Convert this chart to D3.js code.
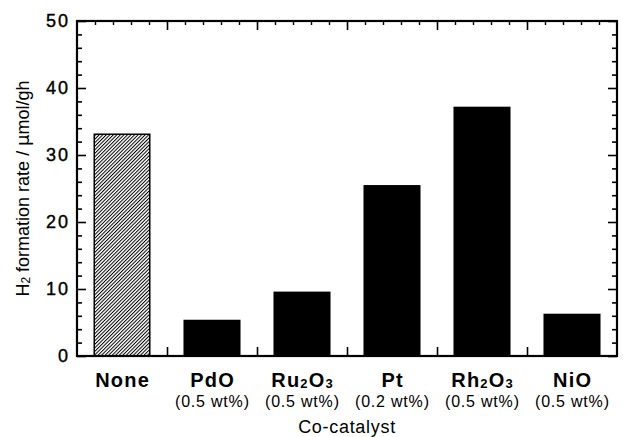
<!DOCTYPE html>
<html><head><meta charset="utf-8">
<script src="https://cdn.jsdelivr.net/npm/d3@7"></script>
<style>
body{margin:0;background:#fff;}
svg{display:block;font-family:"Liberation Sans",Arial,Helvetica,sans-serif;}
</style></head>
<body><svg id="c" width="623" height="437"></svg>
<script>
// Data
const categories = ["None", "PdO", "Ru2O3", "Pt", "Rh2O3", "NiO"];
const categoryParts = [
  [["None", false]],
  [["PdO", false]],
  [["Ru", false], ["2", true], ["O", false], ["3", true]],
  [["Pt", false]],
  [["Rh", false], ["2", true], ["O", false], ["3", true]],
  [["NiO", false]]
];
const loadings = ["", "(0.5 wt%)", "(0.5 wt%)", "(0.2 wt%)", "(0.5 wt%)", "(0.5 wt%)"];
const rates = [33.1, 5.3, 9.5, 25.4, 37.1, 6.2];
const hatched = [true, false, false, false, false, false];
const yMajorTicks = [0, 10, 20, 30, 40, 50];
const yMinorTicks = [2, 4, 6, 8, 12, 14, 16, 18, 22, 24, 26, 28, 32, 34, 36, 38, 42, 44, 46, 48];

const L = 77, R = 617, T = 21, B = 356;
const svg = d3.select("#c");

const pi = 0.383;
const x = d3.scaleBand().domain(categories).range([L, R]).paddingInner(pi).paddingOuter(pi / 2);
const y = d3.scaleLinear().domain([0, 50]).range([B, T]);
const xSub = d3.scaleLinear().domain([0, categories.length]).range([L, R]);

// hatch pattern
const defs = svg.append("defs");
const pat = defs.append("pattern").attr("id", "hatch").attr("patternUnits", "userSpaceOnUse")
  .attr("width", 2.5).attr("height", 10).attr("patternTransform", "rotate(45)");
pat.append("rect").attr("width", 2.5).attr("height", 10).attr("fill", "#fff");
pat.append("line").attr("x1", 0.5).attr("x2", 0.5).attr("y1", 0).attr("y2", 10)
  .attr("stroke", "#000").attr("stroke-width", 1.0);

// bars
svg.append("g").selectAll("rect").data(categories).join("rect")
  .attr("x", d => x(d))
  .attr("width", x.bandwidth())
  .attr("y", (d, i) => y(rates[i]))
  .attr("height", (d, i) => y(0) - y(rates[i]))
  .attr("fill", (d, i) => hatched[i] ? "url(#hatch)" : "#000")
  .attr("stroke", "#000").attr("stroke-width", 1.5);

// axes
function styleAxis(g, w) {
  g.select(".domain").remove();
  g.selectAll(".tick line").attr("stroke", "#000").attr("stroke-width", w);
}
// left
svg.append("g").attr("transform", `translate(${L},0)`)
  .call(d3.axisLeft(y).tickValues(yMajorTicks).tickSizeInner(-9).tickSizeOuter(0).tickPadding(7).tickFormat(d3.format("d")))
  .call(g => { styleAxis(g, 1.6); g.selectAll(".tick text").attr("font-size", 18).attr("letter-spacing", 2).attr("fill", "#000")
      .attr("stroke", "#000").attr("stroke-width", 0.4).attr("font-family", "Liberation Sans, Arial, sans-serif"); });
svg.append("g").attr("transform", `translate(${L},0)`)
  .call(d3.axisLeft(y).tickValues(yMinorTicks).tickSizeInner(-5).tickSizeOuter(0).tickFormat(""))
  .call(g => styleAxis(g, 1.6));
// right
svg.append("g").attr("transform", `translate(${R},0)`)
  .call(d3.axisRight(y).tickValues(yMajorTicks).tickSizeInner(-9).tickSizeOuter(0).tickFormat(""))
  .call(g => styleAxis(g, 1.6));
svg.append("g").attr("transform", `translate(${R},0)`)
  .call(d3.axisRight(y).tickValues(yMinorTicks).tickSizeInner(-5).tickSizeOuter(0).tickFormat(""))
  .call(g => styleAxis(g, 1.6));
// top
const topMajor = d3.range(1, categories.length);
const topMinor = d3.range(0, categories.length * 5 + 1).map(d => d / 5).filter(d => Math.abs(d - Math.round(d)) > 1e-6);
svg.append("g").attr("transform", `translate(0,${T})`)
  .call(d3.axisTop(xSub).tickValues(topMajor).tickSizeInner(-9).tickSizeOuter(0).tickFormat(""))
  .call(g => styleAxis(g, 1.6));
svg.append("g").attr("transform", `translate(0,${T})`)
  .call(d3.axisTop(xSub).tickValues(topMinor).tickSizeInner(-4).tickSizeOuter(0).tickFormat(""))
  .call(g => styleAxis(g, 1.4));
// bottom
svg.append("g").attr("transform", `translate(0,${B})`)
  .call(d3.axisBottom(xSub).tickValues(topMajor).tickSizeInner(-9).tickSizeOuter(0).tickFormat(""))
  .call(g => styleAxis(g, 1.6));

// frame
svg.append("rect").attr("x", L).attr("y", T).attr("width", R - L).attr("height", B - T)
  .attr("fill", "none").attr("stroke", "#000").attr("stroke-width", 2.2);

// category labels
const lab = svg.append("g").selectAll("text.cat").data(categories).join("text")
  .attr("class", "cat")
  .attr("x", d => x(d) + x.bandwidth() / 2 + 0.6)
  .attr("y", 387)
  .attr("text-anchor", "middle")
  .attr("font-size", 20).attr("font-weight", "bold").attr("letter-spacing", 1.2).attr("fill", "#000");
lab.each(function(d, i) {
  const t = d3.select(this);
  let shift = 0;
  categoryParts[i].forEach(([s, sub]) => {
    const ts = t.append("tspan").text(s);
    if (sub) { ts.attr("font-size", 13).attr("dy", 1 - shift); shift = 1; }
    else { ts.attr("dy", -shift); shift = 0; }
  });
});
svg.append("g").selectAll("text.load").data(categories).join("text")
  .attr("class", "load")
  .attr("x", d => x(d) + x.bandwidth() / 2 + 0.4)
  .attr("y", 407)
  .attr("text-anchor", "middle")
  .attr("font-size", 16).attr("letter-spacing", 0.8).attr("fill", "#000")
  .text((d, i) => loadings[i]);

// axis titles
svg.append("text").attr("x", (L + R) / 2).attr("y", 433).attr("text-anchor", "middle")
  .attr("font-size", 18).attr("letter-spacing", 0.7).attr("fill", "#000").text("Co-catalyst");
const yt = svg.append("text").attr("transform", `translate(29,${(T + B) / 2}) rotate(-90)`)
  .attr("text-anchor", "middle").attr("font-size", 18).attr("fill", "#000");
yt.append("tspan").text("H");
yt.append("tspan").attr("font-size", 12).attr("dy", 1).text("2");
yt.append("tspan").attr("dy", -1).text(" formation rate / ");
yt.append("tspan").attr("font-family", "DejaVu Sans").text("μ");
yt.append("tspan").text("mol/gh");
</script></body></html>
